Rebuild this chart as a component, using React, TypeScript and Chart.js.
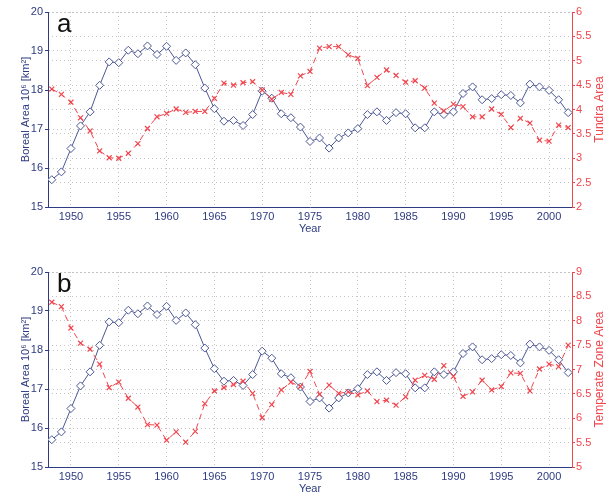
import React, { useEffect, useRef } from "react";
import { Chart, registerables } from "chart.js";

Chart.register(...registerables);

const years = [
  1948, 1949, 1950, 1951, 1952, 1953, 1954, 1955, 1956, 1957,
  1958, 1959, 1960, 1961, 1962, 1963, 1964, 1965, 1966, 1967,
  1968, 1969, 1970, 1971, 1972, 1973, 1974, 1975, 1976, 1977,
  1978, 1979, 1980, 1981, 1982, 1983, 1984, 1985, 1986, 1987,
  1988, 1989, 1990, 1991, 1992, 1993, 1994, 1995, 1996, 1997,
  1998, 1999, 2000, 2001, 2002,
];

const borealArea = [
  15.7, 15.9, 16.5, 17.08, 17.44, 18.12, 18.72, 18.7, 19.02, 18.93,
  19.13, 18.91, 19.12, 18.76, 18.95, 18.65, 18.05, 17.52, 17.2, 17.22,
  17.09, 17.37, 17.97, 17.79, 17.39, 17.29, 17.05, 16.68, 16.77, 16.51,
  16.77, 16.9, 17.01, 17.37, 17.44, 17.22, 17.42, 17.39, 17.03, 17.03,
  17.44, 17.37, 17.44, 17.91, 18.08, 17.75, 17.78, 17.88, 17.86, 17.67,
  18.15, 18.08, 17.99, 17.75, 17.42,
];

const tundraArea = [
  4.42, 4.31, 4.15, 3.83, 3.56, 3.15, 3.01, 3.0, 3.1, 3.3,
  3.61, 3.85, 3.92, 4.01, 3.94, 3.96, 3.96, 4.23, 4.54, 4.5,
  4.55, 4.57, 4.4, 4.21, 4.35, 4.31, 4.69, 4.78, 5.26, 5.29,
  5.29, 5.12, 5.05, 4.49, 4.66, 4.81, 4.7, 4.56, 4.59, 4.44,
  4.13, 3.97, 4.11, 4.06, 3.85, 3.85, 4.01, 3.9, 3.63, 3.82,
  3.72, 3.37, 3.35, 3.68, 3.63,
];

const temperateArea = [
  8.38, 8.29, 7.85, 7.54, 7.42, 7.11, 6.63, 6.74, 6.41, 6.23,
  5.87, 5.86, 5.55, 5.72, 5.51, 5.73, 6.3, 6.56, 6.63, 6.69,
  6.76, 6.51, 6.01, 6.28, 6.58, 6.74, 6.65, 6.96, 6.49, 6.68,
  6.51, 6.54, 6.48, 6.56, 6.34, 6.37, 6.27, 6.44, 6.78, 6.88,
  6.8, 7.08, 6.86, 6.45, 6.54, 6.78, 6.58, 6.65, 6.93, 6.92,
  6.56, 7.01, 7.11, 7.06, 7.5,
];

const yearTicks = [1950, 1955, 1960, 1965, 1970, 1975, 1980, 1985, 1990, 1995, 2000];
const borealTicks = [15, 16, 17, 18, 19, 20];
const tundraTicks = [2, 2.5, 3, 3.5, 4, 4.5, 5, 5.5, 6];
const temperateTicks = [5, 5.5, 6, 6.5, 7, 7.5, 8, 8.5, 9];

const BLUE = "#4b5794";
const NAVY = "#2f3b80";
const RED = "#f0464e";
const GRID = "#c4c4c4";
const TICK_FONT = { family: "'Liberation Sans Narrow', 'Liberation Sans', Arial, sans-serif", size: 11 };
const TITLE_FAMILY = "'Liberation Sans', Arial, sans-serif";

const W = 609;
const H = 237;

type PanelProps = {
  letter: string;
  rightTitle: string;
  rightValues: number[];
  rightTicks: number[];
  top: number;
};

function Panel({ letter, rightTitle, rightValues, rightTicks, top }: PanelProps) {
  const ref = useRef<HTMLCanvasElement>(null);

  useEffect(() => {
    const textPlugin = {
      id: "panelText",
      afterDraw(chart: any) {
        const { ctx, chartArea } = chart;
        const midY = (chartArea.top + chartArea.bottom) / 2;
        ctx.save();
        ctx.fillStyle = "#111";
        ctx.font = `26px ${TITLE_FAMILY}`;
        ctx.textAlign = "left";
        ctx.textBaseline = "alphabetic";
        ctx.fillText(letter, 57, 32);

        ctx.font = `11px ${TITLE_FAMILY}`;
        ctx.textAlign = "center";
        ctx.textBaseline = "middle";
        ctx.fillStyle = NAVY;
        ctx.save();
        ctx.translate(26, midY);
        ctx.rotate(-Math.PI / 2);
        ctx.fillText("Boreal Area 10\u2076 [km\u00b2]", 0, 0);
        ctx.restore();

        ctx.fillStyle = RED;
        ctx.font = `12px ${TITLE_FAMILY}`;
        ctx.save();
        ctx.translate(600, midY);
        ctx.rotate(-Math.PI / 2);
        ctx.fillText(rightTitle, 0, 0);
        ctx.restore();
        ctx.restore();
      },
    };

    const chart = new Chart(ref.current as HTMLCanvasElement, {
      type: "line",
      data: {
        datasets: [
          {
            label: rightTitle,
            data: years.map((y, i) => ({ x: y, y: rightValues[i] })),
            yAxisID: "yR",
            borderColor: RED,
            borderWidth: 1,
            borderDash: [6, 4],
            pointStyle: "crossRot",
            pointRadius: 3.5,
            pointBorderColor: RED,
            pointBorderWidth: 1.2,
            pointBackgroundColor: RED,
            tension: 0,
            order: 0,
          },
          {
            label: "Boreal",
            data: years.map((y, i) => ({ x: y, y: borealArea[i] })),
            yAxisID: "yL",
            borderColor: BLUE,
            borderWidth: 1,
            pointStyle: "rectRot",
            pointRadius: 4,
            pointBorderColor: BLUE,
            pointBorderWidth: 1,
            pointBackgroundColor: "#ffffff",
            tension: 0,
            order: 1,
          },
        ],
      },
      options: {
        animation: false,
        responsive: false,
        maintainAspectRatio: false,
        layout: { padding: { top: 12, left: 0, right: 0, bottom: 0 } },
        plugins: { legend: { display: false }, tooltip: { enabled: false } },
        scales: {
          x: {
            type: "linear",
            min: 1947.6,
            max: 2002.4,
            afterBuildTicks: (s: any) => {
              s.ticks = yearTicks.map((v) => ({ value: v }));
            },
            afterFit: (s: any) => {
              s.height = 30;
            },
            ticks: {
              autoSkip: false,
              maxRotation: 0,
              padding: 3,
              color: NAVY,
              font: TICK_FONT,
              callback: (v: any) => String(v),
            },
            grid: { color: GRID, drawTicks: false, lineWidth: 1 },
            border: { color: NAVY, width: 1, dash: [1, 3] },
            title: {
              display: true,
              text: "Year",
              color: NAVY,
              font: { family: TITLE_FAMILY, size: 11 },
              padding: { top: 0, bottom: 1 },
            },
          },
          yL: {
            type: "linear",
            position: "left",
            min: 15,
            max: 20,
            afterBuildTicks: (s: any) => {
              s.ticks = borealTicks.map((v) => ({ value: v }));
            },
            afterFit: (s: any) => {
              s.width = 48;
            },
            ticks: {
              padding: 2,
              color: NAVY,
              font: TICK_FONT,
              callback: (v: any) => String(v),
            },
            grid: {
              color: GRID,
              drawTicks: true,
              tickLength: 3,
              tickColor: NAVY,
              tickBorderDash: [],
            },
            border: { color: NAVY, width: 1, dash: [1, 3] },
          },
          yR: {
            type: "linear",
            position: "right",
            min: rightTicks[0],
            max: rightTicks[rightTicks.length - 1],
            afterBuildTicks: (s: any) => {
              s.ticks = rightTicks.map((v) => ({ value: v }));
            },
            afterFit: (s: any) => {
              s.width = 37;
            },
            ticks: {
              padding: 1,
              color: RED,
              font: TICK_FONT,
              callback: (v: any) => String(v),
            },
            grid: {
              color: GRID,
              drawTicks: true,
              tickLength: 3,
              tickColor: RED,
              tickBorderDash: [],
            },
            border: { color: RED, width: 1, dash: [1, 3] },
          },
        },
      } as any,
      plugins: [textPlugin],
    });
    return () => chart.destroy();
  }, []);

  return (
    <canvas
      ref={ref}
      width={W}
      height={H}
      style={{ position: "absolute", left: 0, top, width: W, height: H }}
    />
  );
}

export default function App() {
  return (
    <div
      style={{
        position: "fixed",
        left: 0,
        top: 0,
        width: W,
        height: 497,
        background: "#ffffff",
        overflow: "hidden",
      }}
    >
      <Panel letter="a" rightTitle="Tundra Area" rightValues={tundraArea} rightTicks={tundraTicks} top={0} />
      <Panel letter="b" rightTitle="Temperate Zone Area" rightValues={temperateArea} rightTicks={temperateTicks} top={260} />
    </div>
  );
}
